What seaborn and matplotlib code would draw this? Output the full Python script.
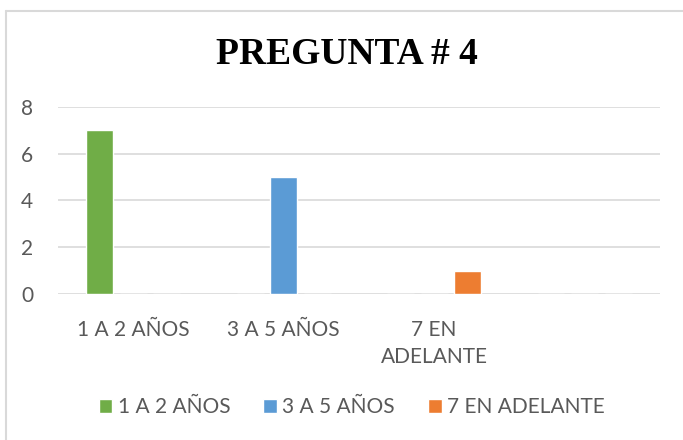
import numpy as np
import pandas as pd
import matplotlib.pyplot as plt
import seaborn as sns
from matplotlib.lines import Line2D

# data
categories = ["1 A 2 AÑOS", "3 A 5 AÑOS", "7 EN\nADELANTE", ""]
series_names = ["1 A 2 AÑOS", "3 A 5 AÑOS", "7 EN ADELANTE"]
s1_values = [7, 0, 0, 0]
s2_values = [0, 5, 0, 0]
s3_values = [0, 0, 1, 0]
colors = ["#70ad47", "#5b9bd5", "#ed7d31"]

rows = []
for name, vals in zip(series_names, [s1_values, s2_values, s3_values]):
    for cat, v in zip(categories, vals):
        rows.append({"cat": cat, "serie": name, "valor": v})
df = pd.DataFrame(rows)

sns.set_theme(style="white")
plt.rcParams["font.family"] = ["Lato", "DejaVu Sans"]

fig = plt.figure(figsize=(6.83, 4.4), dpi=100)
ax = fig.add_axes([0.085, 0.332, 0.881, 0.425])

sns.barplot(data=df, x="cat", y="valor", hue="serie", order=categories,
            hue_order=series_names, palette=colors, width=0.67, gap=0.2,
            saturation=1, ax=ax)

ax.set_ylim(0, 8)
ax.set_yticks([0, 2, 4, 6, 8])
ax.set_xlim(-0.5, 3.5)
ax.grid(axis="y", color="#d9d9d9", linewidth=1.2)
ax.set_axisbelow(True)
for s in ax.spines.values():
    s.set_visible(False)
ax.set_xlabel("")
ax.set_ylabel("")
ax.tick_params(axis="both", length=0, labelsize=15, labelcolor="#595959")
ax.tick_params(axis="x", pad=19)
ax.tick_params(axis="y", pad=18)
for lbl in ax.get_xticklabels():
    lbl.set_linespacing(1.4)
    lbl.set_verticalalignment("top")

fig.suptitle("PREGUNTA # 4", x=0.508, y=0.915, fontsize=27, fontweight="bold",
             family="Liberation Serif", color="black")

handles, labels = ax.get_legend_handles_labels()
ax.legend(handles, labels, loc="center", bbox_to_anchor=(0.515, 0.075),
          bbox_transform=fig.transFigure, ncol=3, frameon=False,
          fontsize=15, labelcolor="#595959", handlelength=0.65,
          handleheight=0.65, handletextpad=0.25, columnspacing=1.6)

# chart border (left and top)
fig.add_artist(Line2D([0.0095, 0.0095], [0, 0.975], color="#d9d9d9", lw=1.5))
fig.add_artist(Line2D([0.0095, 1], [0.975, 0.975], color="#d9d9d9", lw=1.5))

fig.savefig("out.png", dpi=100)
